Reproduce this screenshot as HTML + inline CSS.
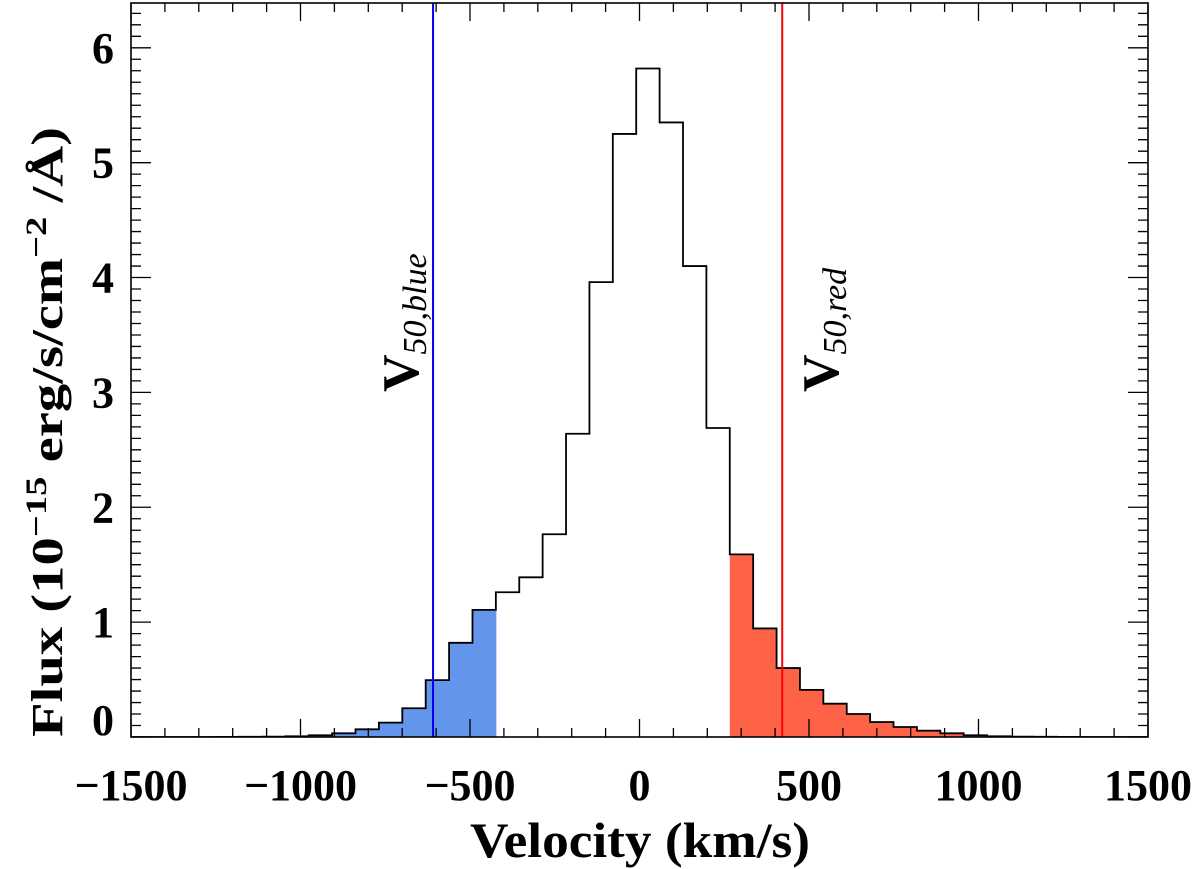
<!DOCTYPE html>
<html><head><meta charset="utf-8"><style>
html,body{margin:0;padding:0;background:#fff;}
svg{display:block;font-family:"Liberation Serif",serif;}
</style></head><body>
<svg id="chart" width="1200" height="869" viewBox="0 0 1200 869" xmlns="http://www.w3.org/2000/svg">
<defs><clipPath id="pc"><rect x="131" y="3" width="1017" height="734"/></clipPath></defs>
<g id="fills" clip-path="url(#pc)"></g>
<g id="hist" clip-path="url(#pc)"></g>
<g id="vlines"></g>
<g id="axes"></g>
<text x="640" y="857" text-anchor="middle" font-size="50" font-weight="bold" textLength="340" lengthAdjust="spacingAndGlyphs">Velocity (km/s)</text>
<text transform="translate(62,432) rotate(-90)" text-anchor="middle" font-size="44" font-weight="bold" textLength="610" lengthAdjust="spacingAndGlyphs">Flux (10<tspan dy="-16" font-size="30">−15</tspan><tspan dy="16"> erg/s/cm</tspan><tspan dy="-16" font-size="30">−2</tspan><tspan dy="16"> /Å)</tspan></text>
<text transform="translate(418,392) rotate(-90)" font-size="52" font-weight="bold">V<tspan font-size="34" font-weight="normal" font-style="italic" dy="8">50,blue</tspan></text>
<text transform="translate(838,392) rotate(-90)" font-size="52" font-weight="bold">V<tspan font-size="34" font-weight="normal" font-style="italic" dy="8">50,red</tspan></text>
</svg>
<script>
const binStart = -9.7;
const binWidth = 69;
const binIndex = [-22,-21,-20,-19,-18,-17,-16,-15,-14,-13,-12,-11,-10,-9,-8,-7,-6,-5,-4,-3,-2,-1,0,1,2,3,4,5,6,7,8,9,10,11,12,13,14,15,16,17,18,19,20,21];
const fluxValues = [0,0,0,0,0.001,0.002,0.003,0.006,0.015,0.032,0.067,0.125,0.25,0.495,0.82,1.107,1.26,1.39,1.765,2.64,3.96,5.25,5.82,5.35,4.10,2.69,1.59,0.945,0.60,0.41,0.29,0.20,0.13,0.087,0.055,0.032,0.015,0.006,0.003,0.002,0.001,0,0,0];
const blueMaxIndex = -7;
const redMinIndex = 4;
const v50Blue = -609;
const v50Red = 421;
const xTicks = [-1500,-1000,-500,0,500,1000,1500];
const yTicks = [0,1,2,3,4,5,6];
const xMin=-1500, xMax=1500, yMin=0, yMax=6.39;
const L=131, R=1148, T=3, B=737;
const NS="http://www.w3.org/2000/svg";
function sx(v){return L+(v-xMin)/(xMax-xMin)*(R-L);}
function sy(v){return B-(v-yMin)/(yMax-yMin)*(B-T);}
function mk(tag,attrs,parent){const e=document.createElementNS(NS,tag);for(const k in attrs)e.setAttribute(k,attrs[k]);parent.appendChild(e);return e;}
const fills=document.getElementById('fills'), hist=document.getElementById('hist'), vl=document.getElementById('vlines'), ax=document.getElementById('axes');
let d='';
binIndex.forEach((k,i)=>{
  const x0=sx(binStart+binWidth*k), x1=sx(binStart+binWidth*(k+1)), y=sy(fluxValues[i]);
  d += (i===0?'M'+x0+','+y:'L'+x0+','+y)+' L'+x1+','+y+' ';
  let col=null;
  if(k<=blueMaxIndex) col='#6495ed'; else if(k>=redMinIndex) col='#ff6347';
  if(col){
    const r=mk('rect',{x:x0,y:y,width:x1-x0+0.5,height:B-y,fill:col},fills);
    
    
  }
});
const p=mk('path',{d:d,fill:'none',stroke:'#000','stroke-width':1.8},hist);


const lb=mk('line',{x1:sx(v50Blue),x2:sx(v50Blue),y1:T,y2:B,stroke:'#0000ee','stroke-width':2},vl);


const lr=mk('line',{x1:sx(v50Red),x2:sx(v50Red),y1:T,y2:B,stroke:'#ff0000','stroke-width':2},vl);


const frame=mk('rect',{x:L,y:T,width:R-L,height:B-T,fill:'none',stroke:'#000','stroke-width':1.6},ax);


let td='';
for(let v=xMin;v<=xMax;v+=100){const x=sx(v);const len=(v%500===0)?18:9;td+=`M${x},${B}V${B-len}M${x},${T}V${T+len}`;}
for(let i=0;i<=63;i++){const v=i/10;const y=sy(v);const len=(i%10===0)?20:10;td+=`M${L},${y}H${L+len}M${R},${y}H${R-len}`;}
const tk=mk('path',{d:td,stroke:'#000','stroke-width':1.3,fill:'none'},ax);


xTicks.forEach(v=>{
  const t=mk('text',{x:sx(v),y:800,'text-anchor':'middle','font-size':44,'font-weight':'bold'},ax);
  t.textContent=v<0?'−'+Math.abs(v):String(v);
  
  
});
yTicks.forEach(v=>{
  const t=mk('text',{x:114,y:Math.min(sy(v)+15,735),'text-anchor':'end','font-size':44,'font-weight':'bold'},ax);
  t.textContent=String(v);
  
  
});
</script>
</body></html>
